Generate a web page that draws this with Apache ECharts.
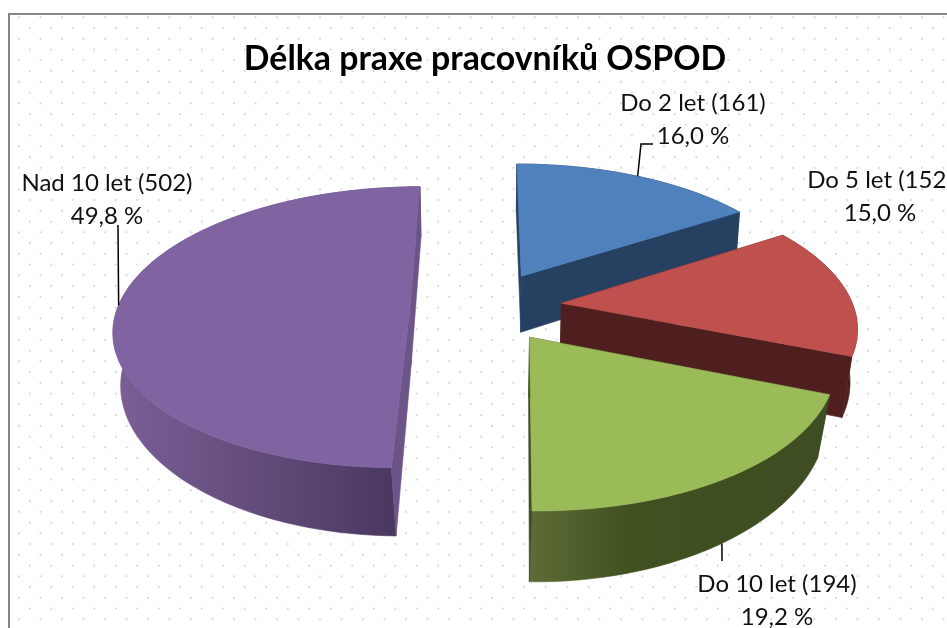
<!DOCTYPE html>
<html>
<head>
<meta charset="utf-8">
<style>html,body{margin:0;padding:0;background:#fff}#c{width:947px;height:628px}</style>
<script src="https://cdn.jsdelivr.net/npm/echarts@6/dist/echarts.min.js"></script>
</head>
<body>
<div id="c"></div>
<script>
var chartTitle = 'Délka praxe pracovníků OSPOD';
var categories = ['Do 2 let', 'Do 5 let', 'Do 10 let', 'Nad 10 let'];
var counts = [161, 152, 194, 502];
var percentLabels = ['16,0 %', '15,0 %', '19,2 %', '49,8 %'];

// styling of each slice (top, cut wall, outer wall gradient left -> right)
var topColors = ['#4F81BD', '#C0504D', '#9BBB59', '#8064A2'];
var cutColors = ['#254061', '#4F1F1F', '#3F4D22', '#6C5488'];
var wallStops = [
  [[0, '#254061'], [1, '#254061']],
  [[0, '#4F1F1F'], [1, '#4F1F1F']],
  [[0, '#5E6D37'], [0.35, '#40501F'], [1, '#3F4D22']],
  [[0, '#7A5E96'], [0.5, '#5F4A78'], [1, '#46345C']]
];
var drawOrder = [3, 0, 1, 2];
// label placement: centre of text, and bend points of the leader line
var labelPos = [[693, 120], [880, 197], [777, 601], [107, 200]];
var leaderBends = [[[641, 144], [653, 144]], [], [[722, 561]], [[118, 225]]];
var leaderOnBase = [false, false, true, false];
var leaderFraction = [0.5, 0.5, 0.48, 0.5];

// projection of the pie plane
var CX = 486, CY = 306.5, R = 292, TILT = 137.4, K = 0.15, EXPLODE = 0.26, DEPTH = 58;
var total = counts.reduce(function (a, b) { return a + b; }, 0);
var starts = [], acc = 0;
counts.forEach(function (v) { starts.push(acc / total * Math.PI * 2); acc += v; });

function project(i, angle, r, base) {
  var mid = starts[i] + counts[i] / total * Math.PI;
  var X = r * Math.sin(angle) + EXPLODE * Math.sin(mid);
  var Y = -r * Math.cos(angle) - EXPLODE * Math.cos(mid);
  var s = 1 / (1 - K * Y);
  var x = CX + R * X * s, y = CY + TILT * Y * s;
  if (base) {
    x = CX + (x - CX) * (0.985 - 0.035 * Math.max(Y, 0));
    y += DEPTH * s;
  }
  return [x, y];
}
function arc(i, base) {
  var a0 = starts[i], a1 = a0 + counts[i] / total * Math.PI * 2, n = 90, pts = [];
  for (var j = 0; j <= n; j++) pts.push(project(i, a0 + (a1 - a0) * j / n, 1, base));
  return pts;
}
function poly(points, fill, stroke) {
  return { type: 'polygon', shape: { points: points }, silent: true,
    style: { fill: fill, stroke: stroke || fill, lineWidth: 0.6 } };
}
function renderSlice(params, api) {
  var i = api.value(0);
  var top = arc(i, false), bot = arc(i, true);
  var apexT = project(i, 0, 0, false), apexB = project(i, 0, 0, true);
  var wall = top.concat(bot.slice().reverse());
  var xs = bot.map(function (p) { return p[0]; });
  var grad = { type: 'linear', global: true,
    x: Math.min.apply(null, xs), y: 0, x2: Math.max.apply(null, xs), y2: 0,
    colorStops: wallStops[i].map(function (s) { return { offset: s[0], color: s[1] }; }) };
  return { type: 'group', children: [
    poly(wall, grad),
    poly([apexT, top[0], bot[0], apexB], cutColors[i]),
    poly([apexT, top[top.length - 1], bot[bot.length - 1], apexB], cutColors[i]),
    poly([apexT].concat(top), topColors[i])
  ] };
}
function renderLabel(params, api) {
  var i = api.value(0);
  var anchor = starts[i] + leaderFraction[i] * api.value(1) / total * Math.PI * 2;
  var children = [];
  var line = [project(i, anchor, 1, leaderOnBase[i])].concat(leaderBends[i]);
  if (line.length > 1) {
    children.push({ type: 'polyline', shape: { points: line }, silent: true,
      style: { fill: 'none', stroke: '#000', lineWidth: 1.5 } });
  }
  children.push({ type: 'text', silent: true, x: labelPos[i][0], y: labelPos[i][1],
    style: { text: categories[i] + ' (' + api.value(1) + ')\n' + percentLabels[i],
      fill: '#111', font: '24px Lato', lineHeight: 33, align: 'center', verticalAlign: 'middle' } });
  return { type: 'group', children: children };
}

// dotted background tile
var tile = document.createElement('canvas');
tile.width = 43; tile.height = 43;
var g = tile.getContext('2d');
g.fillStyle = '#ffffff'; g.fillRect(0, 0, 43, 43);
g.fillStyle = '#d9d9d9';
for (var r = 0; r < 4; r++) {
  for (var c = 0; c < 2; c++) {
    var dx = (19 + (r % 2) * 10.75 + 21.5 * c) % 43, dy = (17.3 + 10.75 * r) % 43;
    g.beginPath(); g.arc(dx, dy, 1.15, 0, Math.PI * 2); g.fill();
  }
}

var chart = echarts.init(document.getElementById('c'), null, { renderer: 'canvas' });
var rows = drawOrder.map(function (i) { return [i, counts[i]]; });
chart.setOption({
  animation: false,
  backgroundColor: '#fff',
  title: { text: chartTitle, left: 480, top: 54, textAlign: 'center', textVerticalAlign: 'middle',
    textStyle: { fontFamily: 'Lato', fontWeight: 'bold', fontSize: 33.8, color: '#000' } },
  graphic: { elements: [{ type: 'rect', z: -10, silent: true,
    shape: { x: 9, y: 14, width: 960, height: 640 },
    style: { fill: { image: tile, repeat: 'repeat' }, stroke: '#868686', lineWidth: 2 } }] },
  series: [
    { type: 'custom', coordinateSystem: 'none', silent: true, z: 2, data: rows, renderItem: renderSlice },
    { type: 'custom', coordinateSystem: 'none', silent: true, z: 3, data: rows, renderItem: renderLabel }
  ]
});
</script>
</body>
</html>
